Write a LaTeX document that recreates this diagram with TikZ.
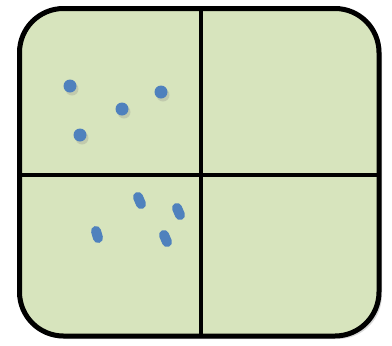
\documentclass[tikz,border=0pt]{standalone}
\usepackage{tikz}
\usetikzlibrary{shadows}
\definecolor{field}{HTML}{D7E4BD}
\definecolor{dotblue}{HTML}{4F81BD}
\definecolor{edge}{HTML}{000000}

\begin{document}
\begin{tikzpicture}[x=1pt,y=-1pt,
  grain/.style={fill=dotblue,drop shadow={shadow xshift=2pt,shadow yshift=-3pt,opacity=0.25}},
  stalk/.style={draw=dotblue,line width=10pt,line cap=round}]
  \useasboundingbox (0,0) rectangle (392,346);
  % the plate
  \draw[fill=field,draw=edge,line width=5pt,rounded corners=44pt,
        drop shadow={shadow xshift=3pt,shadow yshift=-3pt,opacity=0.3}]
    (19.5,8.5) rectangle (379,336);
  \draw[edge,line width=4.5pt] (201,8.5) -- (201,336);
  \draw[edge,line width=4.5pt] (19.5,175) -- (379,175);
  % round grains, upper left
  \foreach \gx/\gy in {70/86, 122/109, 161/92, 80/135}
    \fill[grain] (\gx,\gy) circle (6.5);
  % rod grains, lower left
  \foreach \ax/\ay/\bx/\by in {138/197/141/204, 177/208/180/215, 96/231/98/238, 164/235/167/242}
    \draw[stalk] (\ax,\ay) -- (\bx,\by);
\end{tikzpicture}
\end{document}
